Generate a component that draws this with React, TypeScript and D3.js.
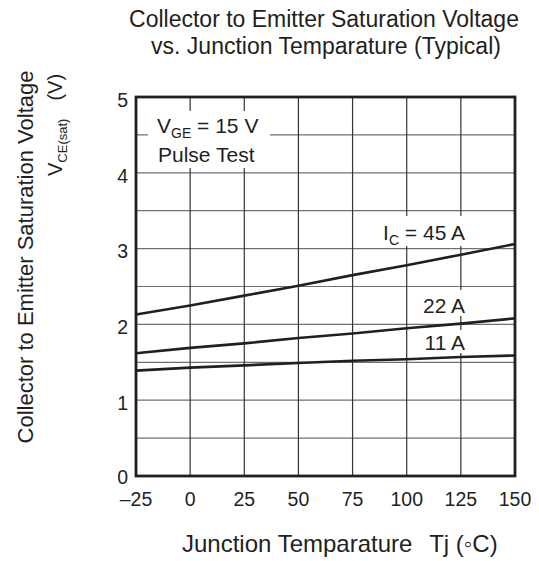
import * as React from 'react';
import { scaleLinear, line as d3line, range } from 'd3';

const temps = [-25, 0, 25, 50, 75, 100, 125, 150];
const vce45 = [2.13, 2.25, 2.38, 2.51, 2.65, 2.78, 2.92, 3.06];
const vce22 = [1.62, 1.69, 1.75, 1.82, 1.88, 1.95, 2.01, 2.08];
const vce11 = [1.39, 1.43, 1.46, 1.49, 1.52, 1.54, 1.57, 1.59];
const xTicks = [-25, 0, 25, 50, 75, 100, 125, 150];
const yTicks = [0, 1, 2, 3, 4, 5];

const FONT = '"Liberation Sans", Arial, sans-serif';
const INK = '#231f20';

export default function App() {
  const W = 539, H = 561;
  const x = scaleLinear().domain([-25, 150]).range([136, 515]);
  const y = scaleLinear().domain([0, 5]).range([476, 97]);
  const line = d3line<number>().x((_, i) => x(temps[i])).y(v => y(v));
  const series = [vce45, vce22, vce11];
  const tickFs = 19.5;
  const noteFs = 21;

  return (
    <svg width={W} height={H} style={{ position: 'absolute', left: 0, top: 0 }} fontFamily={FONT} fill={INK}>
      <rect width={W} height={H} fill="#fff" />
      {/* grid */}
      {range(0.5, 5, 0.5).map(v => (
        <line key={'h' + v} x1={x(-25)} x2={x(150)} y1={y(v)} y2={y(v)} stroke="#707070" strokeWidth={1.2} />
      ))}
      {xTicks.slice(1, -1).map(t => (
        <line key={'v' + t} x1={x(t)} x2={x(t)} y1={y(0)} y2={y(5)} stroke="#333" strokeWidth={1.2} />
      ))}
      {/* label backgrounds */}
      <rect x={148} y={111} width={122} height={57} fill="#fff" />
      <rect x={374} y={216} width={96} height={30} fill="#fff" />
      <rect x={414} y={290} width={54} height={26} fill="#fff" />
      <rect x={414} y={330} width={54} height={23} fill="#fff" />
      {/* curves */}
      {series.map((s, i) => (
        <path key={i} d={line(s) ?? ''} fill="none" stroke={INK} strokeWidth={2.6} />
      ))}
      {/* frame */}
      <rect x={x(-25)} y={y(5)} width={x(150) - x(-25)} height={y(0) - y(5)} fill="none" stroke={INK} strokeWidth={2.8} />
      {/* tick labels */}
      {yTicks.map(v => (
        <text key={'yt' + v} x={128} y={y(v) + (v === 0 ? 1 : 3)} dy="0.35em" textAnchor="end" fontSize={tickFs}>{v}</text>
      ))}
      {xTicks.map(t => (
        <text key={'xt' + t} x={x(t)} y={499} dy="0.35em" textAnchor="middle" fontSize={tickFs}>
          {t < 0 ? '\u2013' + Math.abs(t) : t}
        </text>
      ))}
      {/* annotations */}
      <text x={157} y={133} fontSize={noteFs}>
        V<tspan fontSize={14} dy={5}>GE</tspan><tspan dy={-5}> = 15 V</tspan>
      </text>
      <text x={158} y={162} fontSize={noteFs}>Pulse Test</text>
      <text x={465} y={240} fontSize={noteFs} textAnchor="end">
        I<tspan fontSize={14} dy={5}>C</tspan><tspan dy={-5}> = 45 A</tspan>
      </text>
      <text x={465} y={313} fontSize={noteFs} textAnchor="end">22 A</text>
      <text x={465} y={350} fontSize={noteFs} textAnchor="end">11 A</text>
      {/* titles */}
      <text x={324} y={27} fontSize={23} textAnchor="middle">Collector to Emitter Saturation Voltage</text>
      <text x={326} y={54} fontSize={23} textAnchor="middle">vs. Junction Temparature (Typical)</text>
      <text x={182} y={552} fontSize={24}>Junction Temparature{'\u2002\u2009'}Tj ({'\u25E6'}C)</text>
      <g transform="translate(33,257) rotate(-90)">
        <text x={0} y={0} fontSize={22} textAnchor="middle">Collector to Emitter Saturation Voltage</text>
      </g>
      <g transform="translate(62,176) rotate(-90)">
        <text x={0} y={0} fontSize={20}>
          V<tspan fontSize={13} dy={5}>CE(sat)</tspan><tspan dy={-5} dx={18}>(V)</tspan>
        </text>
      </g>
    </svg>
  );
}
